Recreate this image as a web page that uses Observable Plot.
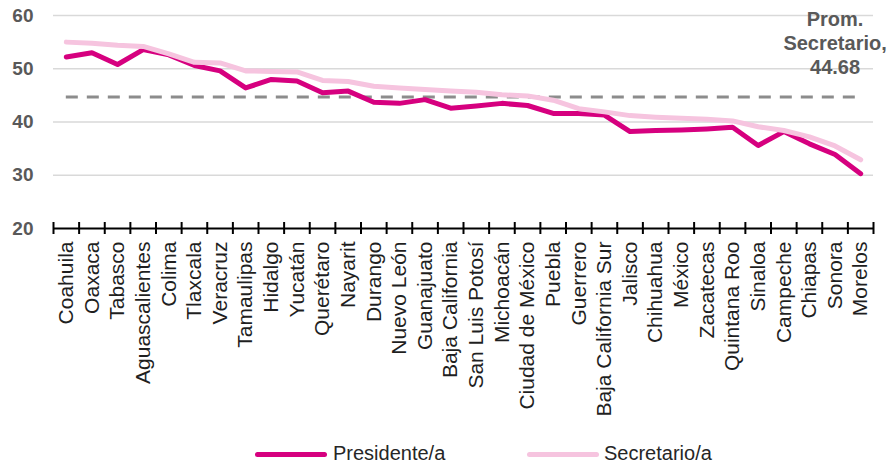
<!DOCTYPE html>
<html><head><meta charset="utf-8">
<script src="https://cdn.jsdelivr.net/npm/d3@7"></script>
<script src="https://cdn.jsdelivr.net/npm/@observablehq/plot@0.6"></script>
<style>
body{margin:0;background:#fff;font-family:"Liberation Sans",Arial,sans-serif}
#wrap{position:relative;width:890px;height:467px}
#legend{position:relative;width:890px;height:27px}
.sw{position:absolute;top:12px;width:72px;height:5px;border-radius:3px}
.lt{position:absolute;top:2px;font-size:20px;color:#262626;line-height:22px}
</style>
</head><body>
<div id="wrap"><div id="chart"></div>
<div id="legend">
<div class="sw" style="left:255px;background:#D6007F"></div><div class="lt" style="left:333px">Presidente/a</div>
<div class="sw" style="left:527px;background:#F6C4DF"></div><div class="lt" style="left:604px">Secretario/a</div>
</div></div>
<script>
const states = ["Coahuila","Oaxaca","Tabasco","Aguascalientes","Colima","Tlaxcala","Veracruz","Tamaulipas","Hidalgo","Yucatán","Querétaro","Nayarit","Durango","Nuevo León","Guanajuato","Baja California","San Luis Potosí","Michoacán","Ciudad de México","Puebla","Guerrero","Baja California Sur","Jalisco","Chihuahua","México","Zacatecas","Quintana Roo","Sinaloa","Campeche","Chiapas","Sonora","Morelos"];
const presidente = [52.2,53.0,50.8,53.6,52.6,50.6,49.6,46.4,48.0,47.7,45.5,45.8,43.7,43.5,44.2,42.6,43.0,43.5,43.1,41.6,41.6,41.3,38.2,38.4,38.5,38.7,39.0,35.6,38.2,35.9,33.9,30.3];
const secretario = [55.0,54.8,54.4,54.2,52.8,51.2,51.1,49.6,49.5,49.4,47.8,47.6,46.7,46.4,46.1,45.8,45.6,45.1,44.9,44.1,42.5,41.9,41.2,40.9,40.7,40.5,40.2,39.1,38.4,37.2,35.5,32.9];
const seriesNames = ["Presidente/a","Secretario/a"];
const seriesColors = ["#D6007F","#F6C4DF"];
const promedio = 44.68;
const promLabel = "Prom.\nSecretario,\n44.68";
const yTicks = [20,30,40,50,60];
const gridTicks = [30,40,50,60];

const rows = [];
states.forEach((s,i)=>{
  rows.push({i, state:s, value:presidente[i], series:seriesNames[0]});
});
states.forEach((s,i)=>{
  rows.push({i, state:s, value:secretario[i], series:seriesNames[1]});
});
const bounds = d3.range(states.length+1).map(k=>k-0.5);

const chart = Plot.plot({
  width: 890, height: 440,
  marginLeft: 53, marginRight: 17, marginTop: 15, marginBottom: 212,
  style: {fontFamily: '"Liberation Sans", Arial, sans-serif', background: "#fff"},
  x: {type: "linear", domain: [-0.5, states.length-0.5], axis: null},
  y: {type: "linear", domain: [20, 60], axis: null},
  color: {domain: seriesNames, range: seriesColors},
  marks: [
    Plot.ruleY(gridTicks, {stroke: "#d9d9d9", strokeWidth: 1.5}),
    Plot.text(yTicks, {y: d=>d, text: d=>String(d), frameAnchor: "left", textAnchor: "end", dx: -20, fontSize: 19, fontWeight: "bold", fill: "#595959"}),
    Plot.ruleY([promedio], {x1: 0, x2: states.length-1, stroke: "#8c8c8c", strokeWidth: 3, strokeDasharray: "12,9"}),
    Plot.line(rows, {x: "i", y: "value", z: "series", stroke: "series", strokeWidth: 5, strokeLinejoin: "round", strokeLinecap: "round"}),
    Plot.ruleY([20], {stroke: "#000", strokeWidth: 2}),
    Plot.ruleX(bounds, {x: d=>d, y1: 20, y2: 20, stroke: "#000", strokeWidth: 2, insetTop: -6, insetBottom: -6}),
    Plot.text(states, {x: (d,i)=>i, y: 20, text: d=>d, rotate: -90, textAnchor: "end", dy: 13, fontSize: 21, fill: "#1f1f1f"}),
    Plot.text([promLabel], {x: states.length-2, y: 54.9, text: d=>d, fontSize: 20, fontWeight: "bold", fill: "#595959", lineHeight: 1.2})
  ]
});
document.getElementById("chart").appendChild(chart);
</script>
</body></html>
